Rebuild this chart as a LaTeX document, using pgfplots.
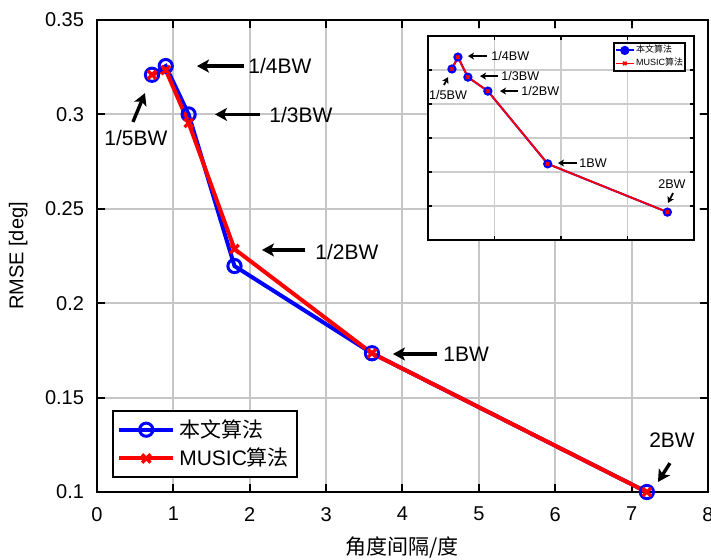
\documentclass[border=0pt]{standalone}
\usepackage{fontspec}
\setmainfont{Liberation Sans}
\newfontfamily\cjk{Noto Sans CJK SC}
\usepackage{pgfplots}
\pgfplotsset{compat=1.18}
\usetikzlibrary{calc, arrows.meta}

\begin{document}
\begin{tikzpicture}
\begin{axis}[
    name=main,
    scale only axis,
    width=305.5pt, height=236pt,
    xmin=0, xmax=8, ymin=0.1, ymax=0.35,
    xtick={0,1,2,3,4,5,6,7,8},
    ytick={0.1,0.15,0.2,0.25,0.3,0.35},
    grid=major,
    grid style={gray!45, line width=1pt},
    axis line style={line width=1pt},
    tick style={black, line width=1pt},
    major tick length=4pt,
    tick align=inside,
    clip=false,
    font=\fontsize{10}{12}\selectfont,
    /pgf/number format/assume math mode=true,
    yticklabel style={/pgf/number format/fixed, /pgf/number format/precision=2, xshift=-3pt},
    xticklabel style={yshift=-4pt},
    xlabel={\cjk 角度间隔/度},
    ylabel={RMSE [deg]},
    xlabel style={at={(axis description cs:0.499,-0.1186)}, anchor=center, font=\fontsize{10.5}{12}\selectfont},
    ylabel style={at={(axis description cs:-0.129,0.5)}, anchor=center},
    legend style={at={(0.025,0.03)}, anchor=south west, draw=black, line width=1pt,
        font=\fontsize{10.5}{13}\selectfont, inner sep=2pt},
    legend cell align=left,
    legend image code/.code={
        \draw[#1] (0pt,0pt) -- (13.5pt,0pt);
        \draw[#1, only marks] plot coordinates {(13.5pt,0pt)};
        \draw[#1] (13.5pt,0pt) -- (27pt,0pt);
    },
]
\addplot[blue, line width=2pt, mark=o, mark size=3.3pt, mark options={line width=1.5pt}]
    coordinates {(0.72,0.321) (0.9,0.3256) (1.2,0.300) (1.8,0.2197) (3.6,0.1735) (7.2,0.1)};
\addlegendentry{\cjk 本文算法}
\addplot[red, line width=2pt, mark=x, mark size=3pt, mark options={line width=1.6pt}]
    coordinates {(0.72,0.321) (0.9,0.3235) (1.2,0.2955) (1.8,0.2287) (3.6,0.1735) (7.2,0.1)};
\addlegendentry{MUSIC{\cjk 算法}}

% annotations
\begin{scope}[line width=1.7pt, -{Stealth[length=6pt, width=6.5pt, inset=1.5pt]}]
\draw (axis cs:1.925,0.3256) -- (axis cs:1.309,0.3256);
\draw (axis cs:2.135,0.3000) -- (axis cs:1.545,0.3000);
\draw (axis cs:0.471,0.296) -- (axis cs:0.628,0.3113);
\draw (axis cs:2.725,0.2282) -- (axis cs:2.160,0.2282);
\draw (axis cs:4.450,0.1731) -- (axis cs:3.875,0.1731);
\draw (axis cs:7.502,0.1153) -- (axis cs:7.345,0.1053);
\end{scope}
\begin{scope}[font=\fontsize{10.5}{12}\selectfont, inner sep=0pt]
\node[anchor=west] at (axis cs:1.977,0.3256) {1/4BW};
\node[anchor=west] at (axis cs:2.252,0.2995) {1/3BW};
\node at (axis cs:0.51,0.2875) {1/5BW};
\node[anchor=west] at (axis cs:2.854,0.2270) {1/2BW};
\node[anchor=west] at (axis cs:4.530,0.1731) {1BW};
\node at (axis cs:7.529,0.1275) {2BW};
\end{scope}
\end{axis}

% white background behind the inset
\fill[white] ($(main.south west)+(165.5pt,125.5pt)$) rectangle ($(main.south west)+(301pt,231.5pt)$);

\begin{axis}[
    at={($(main.south west)+(165.5pt,126pt)$)}, anchor=south west,
    scale only axis,
    width=133pt, height=102pt,
    xmin=0, xmax=8, ymin=0, ymax=0.6,
    xtick={0,2,4,6,8},
    ytick={0,0.1,0.2,0.3,0.4,0.5,0.6},
    xticklabels={}, yticklabels={},
    grid=major,
    grid style={gray!40, line width=0.6pt},
    axis line style={line width=0.6pt},
    tick style={black, line width=0.6pt},
    major tick length=2pt,
    tick align=inside,
    clip=false,
    legend style={at={(0.97,0.97)}, anchor=north east, draw=black, line width=0.8pt,
        font=\fontsize{4.5}{5}\selectfont, inner sep=0.5pt,
        nodes={inner sep=0.6pt}},
    legend cell align=left,
    legend image code/.code={
        \draw[#1] (0pt,0pt) -- (4.5pt,0pt);
        \draw[#1, only marks] plot coordinates {(4.5pt,0pt)};
        \draw[#1] (4.5pt,0pt) -- (9pt,0pt);
    },
]
\addplot[blue, line width=1pt, mark=*, mark size=1.8pt]
    coordinates {(0.72,0.503) (0.9,0.538) (1.2,0.479) (1.8,0.438) (3.6,0.224) (7.2,0.082)};
\addlegendentry{\cjk 本文算法}
\addplot[red, line width=0.9pt, mark=x, mark size=1.2pt, mark options={line width=0.8pt}]
    coordinates {(0.72,0.503) (0.9,0.538) (1.2,0.479) (1.8,0.438) (3.6,0.224) (7.2,0.082)};
\addlegendentry{MUSIC{\cjk 算法}}

\begin{scope}[line width=0.9pt, -{Stealth[length=3pt, width=3.5pt, inset=0.8pt]}]
\draw (axis cs:1.774,0.541) -- (axis cs:1.203,0.541);
\draw (axis cs:2.105,0.482) -- (axis cs:1.564,0.482);
\draw (axis cs:2.707,0.438) -- (axis cs:2.165,0.438);
\draw (axis cs:0.481,0.456) -- (axis cs:0.602,0.479);
\draw (axis cs:4.481,0.2265) -- (axis cs:3.910,0.2265);
\draw (axis cs:7.368,0.138) -- (axis cs:7.218,0.109);
\end{scope}
\begin{scope}[font=\fontsize{6.3}{7}\selectfont, inner sep=0.5pt]
\node[anchor=west] at (axis cs:1.865,0.541) {1/4BW};
\node[anchor=west] at (axis cs:2.165,0.482) {1/3BW};
\node[anchor=west] at (axis cs:2.767,0.438) {1/2BW};
\node at (axis cs:0.602,0.426) {1/5BW};
\node[anchor=west] at (axis cs:4.511,0.2265) {1BW};
\node at (axis cs:7.338,0.165) {2BW};
\end{scope}
\end{axis}

\pgfresetboundingbox
\path ($(main.south west)+(-48.5pt,-33.5pt)$) rectangle ($(main.north east)+(1.5pt,10pt)$);
\end{tikzpicture}
\end{document}
